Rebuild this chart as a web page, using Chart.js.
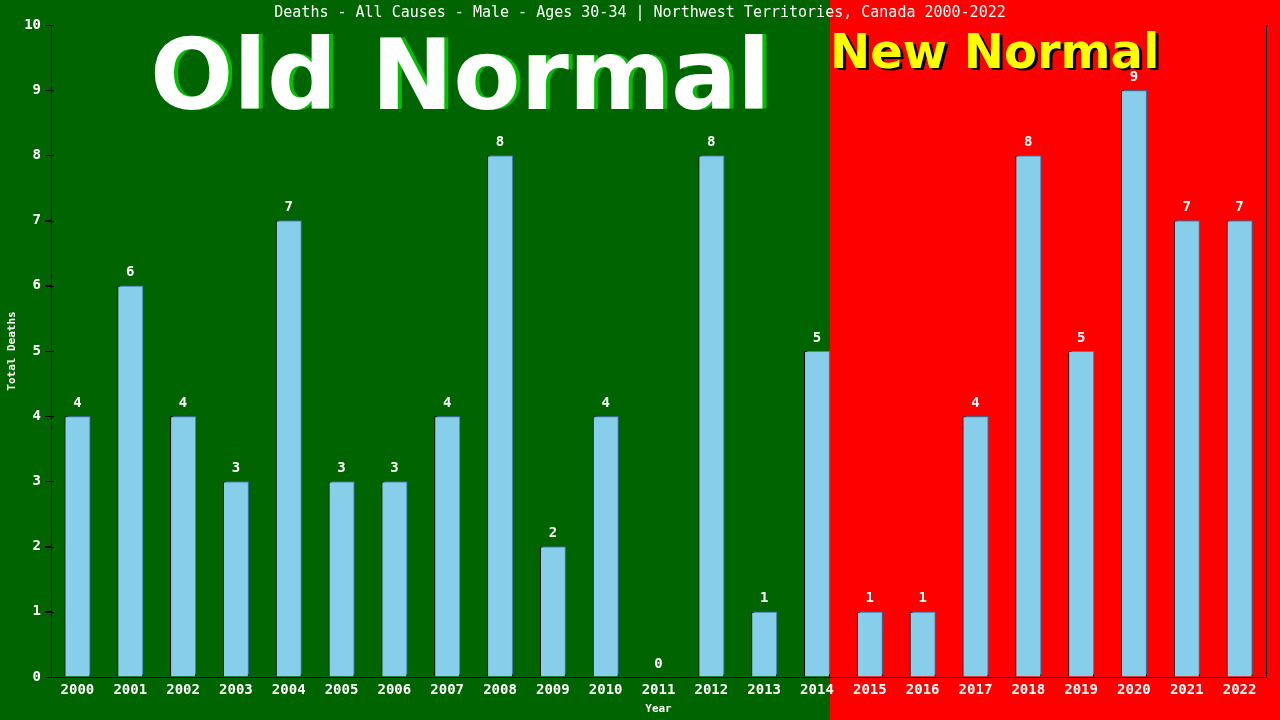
<!DOCTYPE html>
<html>
<head>
<meta charset="utf-8">
<script src="https://cdn.jsdelivr.net/npm/chart.js@4"></script>
<style>
  html, body { margin: 0; padding: 0; background: #006400; }
  canvas { display: block; }
</style>
</head>
<body>
<canvas id="deathsChart" width="1280" height="720"></canvas>
<script>
const years = ['2000', '2001', '2002', '2003', '2004', '2005', '2006', '2007', '2008', '2009', '2010', '2011',
  '2012', '2013', '2014', '2015', '2016', '2017', '2018', '2019', '2020', '2021', '2022'];
const deaths = [4, 6, 4, 3, 7, 3, 3, 4, 8, 2, 4, 0, 8, 1, 5, 1, 1, 4, 8, 5, 9, 7, 7];
const lastOldNormal = 14; // 2014 is the last "old normal" bar
const chartTitle = 'Deaths - All Causes - Male - Ages 30-34 | Northwest Territories, Canada 2000-2022';

const MONO = '"DejaVu Sans Mono", "Liberation Mono", monospace';
const BIG = '"DejaVu Sans", Verdana, sans-serif';

// green / red halves, title and the two big banners
const backdrop = {
  id: 'backdrop',
  beforeDraw(chart) {
    const { ctx, width, height } = chart;
    const bar = chart.getDatasetMeta(0).data[lastOldNormal];
    const split = Math.round(bar.x + bar.width / 2);
    ctx.save();
    ctx.fillStyle = '#006400';
    ctx.fillRect(0, 0, split, height);
    ctx.fillStyle = '#ff0000';
    ctx.fillRect(split, 0, width - split, height);

    ctx.textBaseline = 'alphabetic';
    ctx.textAlign = 'left';
    ctx.font = 'bold 98px ' + BIG;
    ctx.fillStyle = '#00c000';
    ctx.fillText('Old Normal', 154, 109);
    ctx.fillStyle = '#ffffff';
    ctx.fillText('Old Normal', 150, 109);

    ctx.font = 'bold 48px ' + BIG;
    ctx.fillStyle = '#000000';
    ctx.fillText('New Normal', split + 3, 70);
    ctx.fillStyle = '#ffff00';
    ctx.fillText('New Normal', split, 68);

    ctx.font = '15px ' + MONO;
    ctx.textAlign = 'center';
    ctx.textBaseline = 'middle';
    ctx.fillStyle = '#ffffff';
    ctx.fillText(chartTitle, 640, 13);
    ctx.restore();
  },
  beforeDatasetsDraw(chart) {
    const { ctx } = chart;
    ctx.save();
    ctx.shadowColor = '#4682b4';
    ctx.shadowOffsetX = 2;
    ctx.shadowOffsetY = -2;
    ctx.shadowBlur = 0;
  },
  afterDatasetsDraw(chart) {
    const { ctx, chartArea } = chart;
    ctx.restore();
    ctx.save();
    // right frame line
    ctx.strokeStyle = '#000';
    ctx.lineWidth = 1;
    ctx.beginPath();
    ctx.moveTo(chartArea.right + 0.5, chartArea.top);
    ctx.lineTo(chartArea.right + 0.5, chartArea.bottom);
    // y tick marks, crossing the axis a little
    const yScale = chart.scales.y;
    yScale.ticks.forEach((t) => {
      const py = Math.round(yScale.getPixelForValue(t.value)) + 0.5;
      ctx.moveTo(chartArea.left - 6, py);
      ctx.lineTo(chartArea.left + 3, py);
    });
    ctx.stroke();
    // value labels
    ctx.font = 'bold 14px ' + MONO;
    ctx.fillStyle = '#ffffff';
    ctx.textAlign = 'center';
    ctx.textBaseline = 'bottom';
    chart.getDatasetMeta(0).data.forEach((bar, i) => {
      ctx.fillText(String(deaths[i]), bar.x, bar.y - 6);
    });
    ctx.restore();
  }
};

const ctx = document.getElementById('deathsChart').getContext('2d');
const deathsChart = new Chart(ctx, {
  type: 'bar',
  data: {
    labels: years,
    datasets: [{
      data: deaths,
      backgroundColor: '#87ceeb',
      borderColor: '#000000',
      borderWidth: 1,
      barPercentage: 0.49,
      categoryPercentage: 1,
    }],
  },
  options: {
    responsive: false,
    animation: false,
    layout: { padding: { top: 25, right: 14, left: 0, bottom: 0 } },
    plugins: {
      legend: { display: false },
      tooltip: { enabled: false },
    },
    scales: {
      x: {
        grid: { display: false, drawTicks: false },
        border: { display: true, color: '#000' },
        ticks: { color: '#fff', font: { family: MONO, size: 14, weight: 'bold' }, padding: 5, maxRotation: 0 },
        title: { display: true, text: 'Year', color: '#fff', font: { family: MONO, size: 11, weight: 'bold' }, padding: { top: 0, bottom: 4 } },
        afterFit: (scale) => { scale.height = 43; },
      },
      y: {
        min: 0,
        max: 10,
        ticks: { stepSize: 1, color: '#fff', font: { family: MONO, size: 14, weight: 'bold' }, padding: 4 },
        grid: { display: true, drawOnChartArea: false, drawTicks: true, tickLength: 6, color: '#000', lineWidth: 1 },
        border: { display: true, color: '#000' },
        title: { display: true, text: 'Total Deaths', color: '#fff', font: { family: MONO, size: 11, weight: 'bold' }, padding: { top: 6, bottom: 0 } },
        afterFit: (scale) => { scale.width = 51; },
      },
    },
  },
  plugins: [backdrop],
});
</script>
</body>
</html>
